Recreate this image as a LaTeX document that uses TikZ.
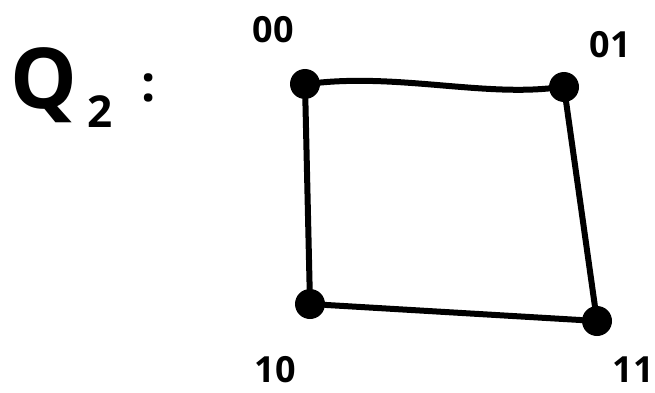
\documentclass[tikz,border=0pt]{standalone}
\usepackage{fontspec}
\setmainfont{Open Sans}
\begin{document}
\begin{tikzpicture}[x=1pt,y=-1pt,
  vtx/.style={circle,fill=black,inner sep=0pt,minimum size=30pt},
  lbl/.style={inner sep=0pt,font=\fontsize{36}{36}\selectfont\bfseries},
  edge/.style={line width=6pt,line cap=round}]
\useasboundingbox (0,0) rectangle (655,393);
\node[vtx] (a) at (305,84) {};
\node[vtx] (b) at (564,87) {};
\node[vtx] (c) at (310,304) {};
\node[vtx] (d) at (597,321) {};
\draw[edge] (a) .. controls (400,75) and (480,95) .. (b);
\draw[edge] (b) -- (d);
\draw[edge] (c) -- (d);
\draw[edge] (a) -- (c);
\node[lbl] (la) at (273,30) {00};
\node[lbl] (lb) at (610,45) {01};
\node[lbl] (lc) at (275,370) {10};
\node[lbl] (ld) at (633,370) {11};
\node[font=\fontsize{84}{84}\selectfont\bfseries] (q) at (44,85) {Q};
\node[font=\fontsize{44}{44}\selectfont\bfseries] (s) at (100,112) {2};
\node[font=\fontsize{50}{50}\selectfont\bfseries] (col) at (149,88) {:};
\end{tikzpicture}
\end{document}
